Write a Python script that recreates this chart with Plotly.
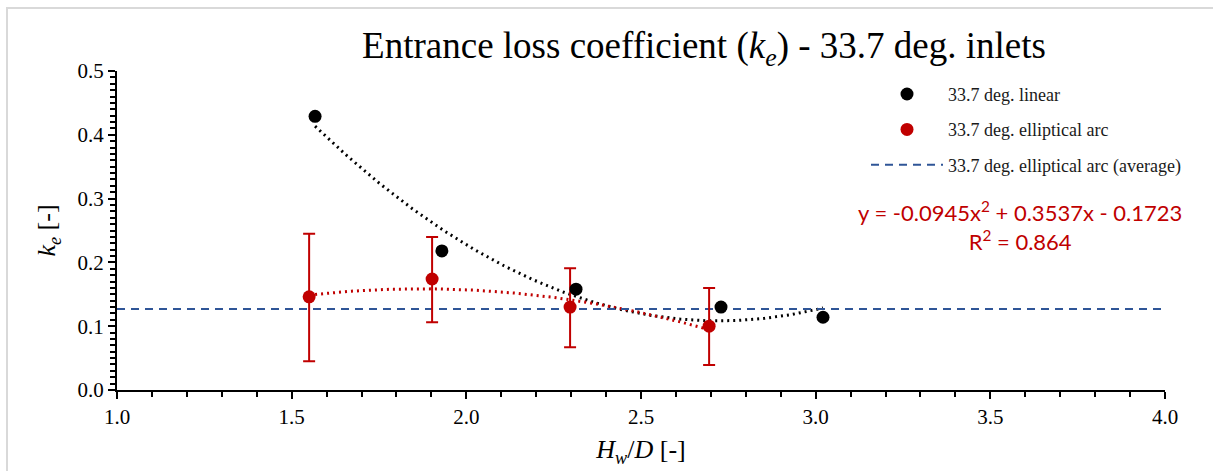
import numpy as np
import plotly.graph_objects as go

# ---- data ----
linear_x = [1.567, 1.930, 2.314, 2.729, 3.021]
linear_y = [0.429, 0.218, 0.158, 0.130, 0.114]

arc_x = [1.550, 1.902, 2.297, 2.695]
arc_y = [0.146, 0.174, 0.130, 0.100]
arc_err_plus = [0.099, 0.066, 0.061, 0.060]
arc_err_minus = [0.101, 0.068, 0.063, 0.061]

arc_average = 0.127
arc_fit_coeffs = [-0.0945, 0.3537, -0.1723]

x_ticks = [1.0, 1.5, 2.0, 2.5, 3.0, 3.5, 4.0]
y_ticks = [0.0, 0.1, 0.2, 0.3, 0.4, 0.5]

RED = "#C00000"
BLUE = "#2F5597"
SERIF = "Liberation Serif, Times New Roman, serif"

# trendlines (polynomial order 2)
lin_coeffs = np.polyfit(linear_x, linear_y, 2)
lx = np.linspace(min(linear_x), max(linear_x), 200)
ly = np.polyval(lin_coeffs, lx)
ax_ = np.linspace(min(arc_x), max(arc_x), 200)
ay_ = np.polyval(arc_fit_coeffs, ax_)

fig = go.Figure()

fig.add_trace(go.Scatter(x=lx, y=ly, mode="lines", showlegend=False,
                         line=dict(color="black", width=3, dash="2px,4px"),
                         hoverinfo="skip"))
fig.add_trace(go.Scatter(x=ax_, y=ay_, mode="lines", showlegend=False,
                         line=dict(color=RED, width=3, dash="2px,4px"),
                         hoverinfo="skip"))

fig.add_trace(go.Scatter(x=[x_ticks[0], x_ticks[-1]], y=[arc_average, arc_average],
                         mode="lines", name="33.7 deg. elliptical arc (average)",
                         legendgroup="c", legendrank=3,
                         line=dict(color=BLUE, width=2, dash="8px,6px")))

fig.add_trace(go.Scatter(x=arc_x, y=arc_y, mode="markers",
                         name="33.7 deg. elliptical arc", legendgroup="b", legendrank=2,
                         marker=dict(color=RED, size=13),
                         error_y=dict(type="data", array=arc_err_plus,
                                      arrayminus=arc_err_minus, color=RED,
                                      thickness=2, width=6)))

fig.add_trace(go.Scatter(x=linear_x, y=linear_y, mode="markers",
                         name="33.7 deg. linear", legendgroup="a", legendrank=1,
                         marker=dict(color="black", size=13)))

fig.update_layout(
    width=1213, height=471,
    margin=dict(l=117, r=48, t=71, b=81),
    paper_bgcolor="white", plot_bgcolor="white",
    font=dict(family=SERIF, color="black"),
    showlegend=True,
    legend=dict(x=0.7147, y=0.985, xanchor="left", yanchor="top",
                font=dict(family=SERIF, size=18, color="#1a1a1a"),
                traceorder="grouped", bgcolor="rgba(0,0,0,0)",
                itemwidth=72, tracegroupgap=9),
    xaxis=dict(range=[1.0, 4.0], tickvals=x_ticks,
               ticktext=[f"{v:.1f}" for v in x_ticks],
               showgrid=False, zeroline=False,
               showline=True, linecolor="black", linewidth=2,
               ticks="outside", ticklen=7, tickwidth=2, tickcolor="black",
               minor=dict(dtick=0.1, ticks="outside", ticklen=5, tickwidth=2,
                          tickcolor="black", showgrid=False),
               tickfont=dict(family=SERIF, size=21),
               title=dict(text="<i>H<sub>w</sub></i>/<i>D</i> [-]",
                          font=dict(family=SERIF, size=26), standoff=12)),
    yaxis=dict(range=[0.0, 0.5], tickvals=y_ticks,
               ticktext=[f"{v:.1f}" for v in y_ticks],
               showgrid=False, zeroline=False,
               showline=True, linecolor="black", linewidth=2,
               ticks="outside", ticklen=7, tickwidth=2, tickcolor="black",
               minor=dict(dtick=0.01, ticks="outside", ticklen=5, tickwidth=2,
                          tickcolor="black", showgrid=False),
               tickfont=dict(family=SERIF, size=21),
               title=dict(text="<i>k<sub>e</sub></i> [-]",
                          font=dict(family=SERIF, size=26), standoff=14)),
    title=dict(text="Entrance loss coefficient (<i>k<sub>e</sub></i>) - 33.7 deg. inlets",
               font=dict(family=SERIF, size=37, color="black"),
               x=704 / 1213, xanchor="center", y=1 - 45 / 471, yanchor="middle"),
)

eq_text = (f"y = {arc_fit_coeffs[0]:.4f}x<sup>2</sup> + {arc_fit_coeffs[1]:.4f}x - "
           f"{abs(arc_fit_coeffs[2]):.4f}<br>R<sup>2</sup> = 0.864")
fig.add_annotation(text=eq_text, xref="paper", yref="paper",
                   x=(1020 - 117) / 1048, y=(390 - 226) / 319,
                   showarrow=False, align="center", xanchor="center", yanchor="middle",
                   font=dict(family="Lato, Carlito, sans-serif", size=22, color=RED))

# chart-area frame
fig.add_shape(type="rect", xref="paper", yref="paper",
              x0=-110 / 1048, x1=1 + 60 / 1048, y0=-90 / 319, y1=1 + 63 / 319,
              line=dict(color="#D9D9D9", width=2), fillcolor="rgba(0,0,0,0)",
              layer="below")

fig.write_html("out.html")
